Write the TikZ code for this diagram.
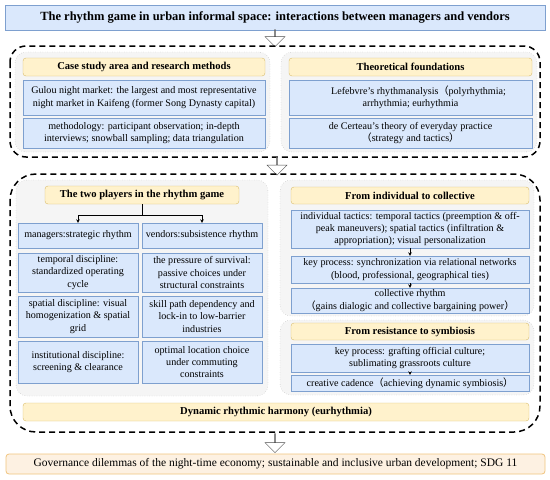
\documentclass[tikz,border=0pt]{standalone}
\usepackage{fontspec}
\setmainfont{Liberation Serif}
\newfontfamily\cjk{Noto Sans CJK SC}
\usetikzlibrary{arrows.meta,shapes.arrows}

\definecolor{blfill}{HTML}{DAE8FC}
\definecolor{bldraw}{HTML}{7EA0CF}
\definecolor{yefill}{HTML}{FFF2CC}
\definecolor{yedraw}{HTML}{D9BC6A}
\definecolor{orfill}{HTML}{FDF1E2}
\definecolor{ordraw}{HTML}{F0C47E}
\definecolor{grfill}{HTML}{F5F5F5}

\begin{document}
\begin{tikzpicture}[
    x=1pt, y=-1pt,
    blbox/.style={draw=bldraw, fill=blfill, align=center, inner sep=1pt,
                  font=\fontsize{10.1}{12.4}\selectfont},
    hdbox/.style={draw=yedraw, fill=yefill, rounded corners=3pt, inner sep=1pt,
                  font=\bfseries\fontsize{10.6}{12}\selectfont},
    panel/.style={draw=gray!65, dotted, fill=grfill, rounded corners=11pt},
    frame/.style={draw, line width=1.5pt, dash pattern=on 6pt off 4pt},
    bigarr/.style={single arrow, draw=gray!60!black, fill=white,
                   shape border rotate=270, minimum width=20pt,
                   single arrow head extend=5pt, inner sep=0pt},
    arr/.style={-{Stealth[length=3.5pt,width=3.5pt]}, thin}
]
\useasboundingbox (0,0) rectangle (550,480);

% Titre
\node[blbox, minimum width=540pt, minimum height=25pt,
      font=\bfseries\fontsize{12.5}{14}\selectfont] (title) at (275,17.5)
  {The rhythm game in urban informal space: interactions between managers and vendors};
\node[bigarr, minimum height=17pt] (a1) at (275,38) {};

% Bloc 1 : terrain et theorie
\draw[frame, rounded corners=16pt] (10,46) rectangle (540,157);
\node[panel, minimum width=255pt, minimum height=100pt] (pcase) at (142.5,102) {};
\node[panel, minimum width=256pt, minimum height=100pt] (ptheo) at (409,102) {};

\node[hdbox, minimum width=242pt, minimum height=18pt] (case) at (144,67)
  {Case study area and research methods};
\node[blbox, minimum width=242pt, minimum height=35pt] (gulou) at (144,97.5)
  {Gulou night market: the largest and most representative\\
   night market in Kaifeng (former Song Dynasty capital)};
\node[blbox, minimum width=242pt, minimum height=30pt] (meth) at (144,133)
  {methodology: participant observation; in-depth\\
   interviews; snowball sampling; data triangulation};

\node[hdbox, minimum width=243pt, minimum height=18pt] (theo) at (410.5,67)
  {Theoretical foundations};
\node[blbox, minimum width=243pt, minimum height=35pt] (lefeb) at (410.5,97.5)
  {\hspace*{16pt}Lefebvre's rhythmanalysis{\cjk （}polyrhythmia;\\
   arrhythmia; eurhythmia};
\node[blbox, minimum width=243pt, minimum height=30pt] (certeau) at (410.5,133)
  {de Certeau's theory of everyday practice\\
   {\cjk （}strategy and tactics{\cjk ）}};

\node[bigarr, minimum height=18pt] (a2) at (277,166) {};

% Bloc 2 : le jeu du rythme
\draw[frame, rounded corners=26pt] (10,174) rectangle (540,432);
\node[panel, minimum width=252pt, minimum height=216pt] (pplay) at (142,288) {};
\node[panel, minimum width=254pt, minimum height=136pt] (pind) at (407,248) {};
\node[panel, minimum width=254pt, minimum height=75pt] (psym) at (407,357.5) {};

% Colonne gauche
\node[hdbox, minimum width=194pt, minimum height=18pt] (players) at (142,195)
  {The two players in the rhythm game};
\node[blbox, minimum width=120pt, minimum height=25pt] (mgr) at (78,235.5)
  {managers:strategic rhythm};
\node[blbox, minimum width=120pt, minimum height=25pt] (vnd) at (202,235.5)
  {vendors:subsistence rhythm};

\node[blbox, minimum width=120pt, minimum height=39pt] (m1) at (78,272.5)
  {temporal discipline:\\ standardized operating\\ cycle};
\node[blbox, minimum width=120pt, minimum height=39pt] (v1) at (202,272.5)
  {the pressure of survival:\\ passive choices under\\ structural constraints};
\node[blbox, minimum width=120pt, minimum height=41pt] (m2) at (78,316.5)
  {spatial discipline: visual\\ homogenization \& spatial\\ grid};
\node[blbox, minimum width=120pt, minimum height=41pt] (v2) at (202,316.5)
  {skill path dependency and\\ lock-in to low-barrier\\ industries};
\node[blbox, minimum width=120pt, minimum height=42pt] (m3) at (78,362)
  {institutional discipline:\\ screening \& clearance};
\node[blbox, minimum width=120pt, minimum height=42pt] (v3) at (202,362)
  {optimal location choice\\ under commuting\\ constraints};

\coordinate (fork) at (142,215);
\draw[thin] (players.south) -- (fork);
\draw[arr] (fork) -| (mgr.north);
\draw[arr] (fork) -| (vnd.north);

% Colonne droite
\node[hdbox, minimum width=238pt, minimum height=17pt] (indiv) at (410,195.5)
  {From individual to collective};
\node[blbox, minimum width=238pt, minimum height=38pt] (tact) at (410,229)
  {individual tactics: temporal tactics (preemption \& off-\\
   peak maneuvers); spatial tactics (infiltration \&\\
   appropriation); visual personalization};
\node[blbox, minimum width=238pt, minimum height=27pt] (sync) at (410,269.5)
  {key process: synchronization via relational networks\\
   (blood, professional, geographical ties)};
\node[blbox, minimum width=238pt, minimum height=25pt] (coll) at (410,300.5)
  {collective rhythm\\
   {\cjk （}gains dialogic and collective bargaining power{\cjk ）}};

\node[hdbox, minimum width=238pt, minimum height=17pt] (resist) at (410,331.5)
  {From resistance to symbiosis};
\node[blbox, minimum width=238pt, minimum height=28pt] (graft) at (410,358)
  {key process: grafting official culture;\\
   sublimating grassroots culture};
\node[blbox, minimum width=238pt, minimum height=16pt] (cad) at (410,383)
  {creative cadence{\cjk （}achieving dynamic symbiosis{\cjk ）}};

\draw[arr] (tact.south) -- (sync.north);
\draw[arr] (sync.south) -- (coll.north);
\draw[arr] (graft.south) -- (cad.north);

% Harmonie
\node[hdbox, minimum width=506pt, minimum height=18pt] (eur) at (276,412)
  {Dynamic rhythmic harmony (eurhythmia)};

% Sortie
\node[bigarr, minimum height=19pt] (a3) at (275,443) {};
\node[draw=ordraw, fill=orfill, rounded corners=3pt, line width=0.8pt,
      minimum width=539pt, minimum height=20pt, inner sep=1pt,
      font=\fontsize{11.5}{13}\selectfont] (gov) at (275.5,464)
  {Governance dilemmas of the night-time economy; sustainable and inclusive urban development; SDG 11};
\end{tikzpicture}
\end{document}
